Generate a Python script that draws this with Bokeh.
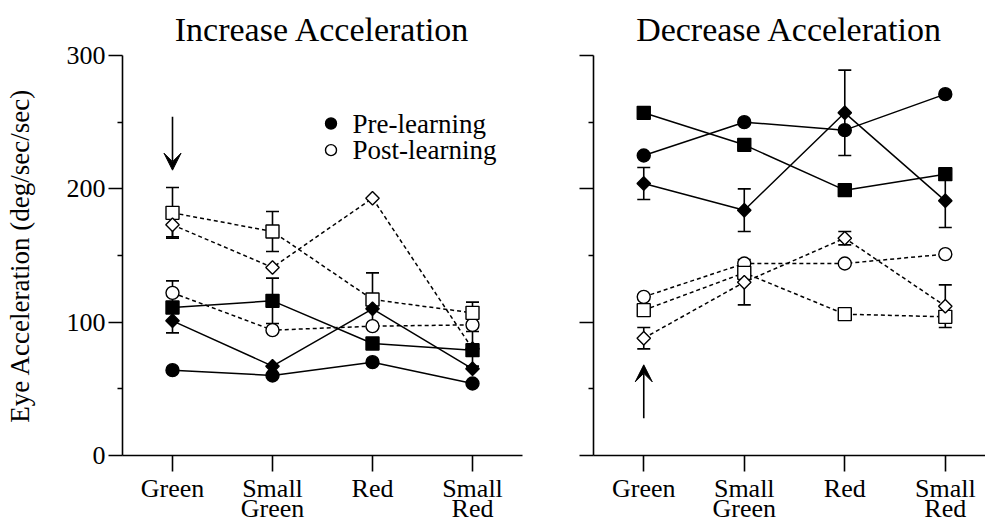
import math
from bokeh.plotting import figure
from bokeh.layouts import row
from bokeh.models import (ColumnDataSource, Whisker, TeeHead, Arrow, VeeHead,
                          FixedTicker, LinearAxis)
from bokeh.core.properties import value
from bokeh.embed import file_html
from bokeh.resources import INLINE

FONT = "Liberation Serif"

# ---------------- data ----------------
categories = ["Green", "Small Green", "Red", "Small Red"]
tick_line1 = ["Green", "Small", "Red", "Small"]
tick_line2 = ["", "Green", "", "Red"]
x_pos = [1, 2, 3, 4]
y_ticks = [0, 100, 200, 300]
y_minor = [50, 150, 250]

# Increase Acceleration panel
inc_pre_circle = [64, 60, 70, 54]
inc_pre_square = [111, 116, 84, 79]
inc_pre_diamond = [101, 67, 110, 65]
inc_post_circle = [122, 94, 97, 98]
inc_post_square = [182, 168, 117, 107]
inc_post_diamond = [173, 141, 193, 80]

inc_pre_circle_err = [0, 0, 0, 0]
inc_pre_square_err = [0, 17, 0, 0]
inc_pre_diamond_err = [9, 0, 0, 0]
inc_post_circle_err = [9, 0, 0, 0]
inc_post_square_err = [19, 15, 20, 8]
inc_post_diamond_err = [9, 0, 0, 13]

# Decrease Acceleration panel
dec_pre_circle = [225, 250, 244, 271]
dec_pre_square = [257, 233, 199, 211]
dec_pre_diamond = [204, 184, 257, 191]
dec_post_circle = [119, 144, 144, 151]
dec_post_square = [109, 137, 106, 104]
dec_post_diamond = [88, 130, 163, 112]

dec_pre_circle_err = [0, 0, 0, 0]
dec_pre_square_err = [0, 0, 0, 0]
dec_pre_diamond_err = [12, 16, 32, 20]
dec_post_circle_err = [0, 0, 0, 0]
dec_post_square_err = [0, 0, 0, 0]
dec_post_diamond_err = [8, 17, 5, 16]

legend_labels = ["Pre-learning", "Post-learning"]

# arrows (x, y_start, y_end) in data units
inc_arrow = (1, 254, 214)
dec_arrow = (1, 28, 68)


def style_axes(p, show_labels, title_offset):
    p.xaxis.ticker = FixedTicker(ticks=x_pos)
    p.xaxis.major_label_overrides = {x: t for x, t in zip(x_pos, tick_line1)}
    p.yaxis.ticker = FixedTicker(ticks=y_ticks, minor_ticks=y_minor)
    for ax in (p.xaxis[0], p.yaxis[0]):
        ax.axis_line_color = "black"
        ax.axis_line_width = 1.6
        ax.major_tick_line_color = "black"
        ax.major_tick_line_width = 1.6
        ax.minor_tick_line_color = "black"
        ax.minor_tick_line_width = 1.6
        ax.major_tick_in = 0
        ax.minor_tick_in = 0
        ax.major_label_text_font = FONT
        ax.major_label_text_font_size = "26px"
        ax.major_label_text_color = "black"
    p.xaxis.major_tick_out = 16
    p.xaxis.major_label_standoff = 2
    p.yaxis.major_tick_out = 14
    p.yaxis.minor_tick_out = 5
    p.yaxis.major_label_standoff = 3
    if show_labels:
        p.yaxis.axis_label = "Eye Acceleration (deg/sec/sec)"
        p.yaxis.axis_label_text_font = FONT
        p.yaxis.axis_label_text_font_size = "27px"
        p.yaxis.axis_label_text_font_style = "normal"
        p.yaxis.axis_label_text_color = "black"
        p.yaxis.axis_label_standoff = 29
    else:
        p.yaxis.major_label_overrides = {t: "" for t in y_ticks}
        p.yaxis.major_label_text_font_size = "0px"
        p.yaxis.major_label_standoff = 0
    # second line of the category labels
    ax2 = LinearAxis(ticker=FixedTicker(ticks=x_pos),
                     major_label_overrides={x: t for x, t in zip(x_pos, tick_line2)},
                     axis_line_color=None, major_tick_line_color=None,
                     minor_tick_line_color=None, major_tick_out=0, major_tick_in=0,
                     minor_tick_out=0, minor_tick_in=0,
                     major_label_standoff=-12,
                     major_label_text_font=FONT, major_label_text_font_size="26px",
                     major_label_text_color="black")
    p.add_layout(ax2, "below")
    p.xgrid.visible = False
    p.ygrid.visible = False
    p.outline_line_color = None
    p.title.text_font = FONT
    p.title.text_font_size = "34px"
    p.title.text_font_style = "normal"
    p.title.align = "center"
    p.title.text_color = "black"
    p.title.standoff = 16
    p.title.offset = title_offset


def draw_series(p, series):
    for vals, errs, marker, pre in series:
        p.line(x_pos, vals, line_color="black", line_width=1.5,
               line_dash="solid" if pre else "4 3")
    # open (post) markers first, filled (pre) markers on top
    for draw_pre in (False, True):
        for vals, errs, marker, pre in series:
            if pre != draw_pre:
                continue
            if marker == "diamond":
                m, size, angle = "square", 9.5, math.pi / 4
            else:
                m, size, angle = marker, 13, 0
            p.scatter(x_pos, vals, marker=m, size=size, angle=angle,
                      fill_color="black" if pre else "white",
                      line_color="black", line_width=1.4)
    for vals, errs, marker, pre in series:
        idx = [i for i, e in enumerate(errs) if e > 0]
        if not idx:
            continue
        src = ColumnDataSource(dict(
            x=[x_pos[i] for i in idx],
            upper=[vals[i] + errs[i] for i in idx],
            lower=[vals[i] - errs[i] for i in idx]))
        p.add_layout(Whisker(source=src, base="x", upper="upper", lower="lower",
                             line_width=1.6, line_color="black",
                             upper_head=TeeHead(size=13, line_width=1.6, line_color="black"),
                             lower_head=TeeHead(size=13, line_width=1.6, line_color="black")))


# ---------------- left panel ----------------
p1 = figure(width=560, height=525, x_range=(0.5, 4.5), y_range=(0, 300),
            output_backend="svg", toolbar_location=None,
            min_border_left=122, min_border_right=38,
            min_border_top=55, min_border_bottom=70,
            title="Increase Acceleration")
style_axes(p1, True, 3)
draw_series(p1, [
    (inc_pre_circle, inc_pre_circle_err, "circle", True),
    (inc_pre_square, inc_pre_square_err, "square", True),
    (inc_pre_diamond, inc_pre_diamond_err, "diamond", True),
    (inc_post_circle, inc_post_circle_err, "circle", False),
    (inc_post_square, inc_post_square_err, "square", False),
    (inc_post_diamond, inc_post_diamond_err, "diamond", False),
])
p1.add_layout(Arrow(x_start=inc_arrow[0], y_start=inc_arrow[1],
                    x_end=inc_arrow[0], y_end=inc_arrow[2],
                    line_width=1.6, line_color="black",
                    end=VeeHead(size=17, fill_color="black", line_color="black")))
# legend
p1.scatter([2.585, 2.585], [249, 229], marker="circle", size=11,
           fill_color=["black", "white"], line_color="black", line_width=1.4)
p1.text([2.8, 2.8], [249, 229], text=legend_labels, text_font=value(FONT),
        text_font_size="27px", text_baseline="middle", text_align="left",
        text_color="black")

# ---------------- right panel ----------------
p2 = figure(width=425, height=525, x_range=(0.5, 4.4), y_range=(0, 300),
            output_backend="svg", toolbar_location=None,
            min_border_left=33, min_border_right=0,
            min_border_top=55, min_border_bottom=70,
            title="Decrease Acceleration")
style_axes(p2, False, 6)
draw_series(p2, [
    (dec_pre_circle, dec_pre_circle_err, "circle", True),
    (dec_pre_square, dec_pre_square_err, "square", True),
    (dec_pre_diamond, dec_pre_diamond_err, "diamond", True),
    (dec_post_circle, dec_post_circle_err, "circle", False),
    (dec_post_square, dec_post_square_err, "square", False),
    (dec_post_diamond, dec_post_diamond_err, "diamond", False),
])
p2.add_layout(Arrow(x_start=dec_arrow[0], y_start=dec_arrow[1],
                    x_end=dec_arrow[0], y_end=dec_arrow[2],
                    line_width=1.6, line_color="black",
                    end=VeeHead(size=17, fill_color="black", line_color="black")))

layout = row(p1, p2)
open("out.html", "w").write(file_html(layout, INLINE))
